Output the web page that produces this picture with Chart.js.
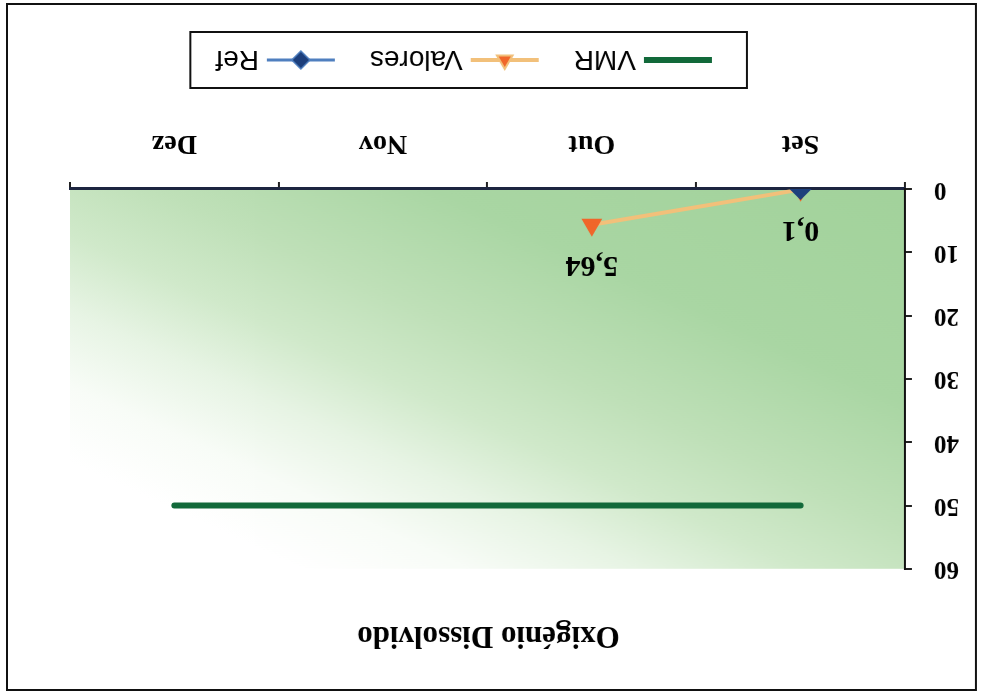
<!DOCTYPE html>
<html>
<head>
<meta charset="utf-8">
<title>Oxigénio Dissolvido</title>
<script src="https://cdn.jsdelivr.net/npm/chart.js@4.4.1/dist/chart.umd.min.js"></script>
<style>
  html, body { margin: 0; padding: 0; background: #fff; }
  /* o gráfico original está digitalizado de pernas para o ar */
  #wrap { position: relative; width: 981px; height: 698px; transform: rotate(180deg); }
  canvas { display: block; }
</style>
</head>
<body>
<div id="wrap"><canvas id="grafico" width="981" height="698"></canvas></div>
<script>
// dados
const meses = ['Set', 'Out', 'Nov', 'Dez'];
const vmr = [50, 50, 50, 50];
const valores = [0.1, 5.64, null, null];
const ref = [0, null, null, null];
const escalaY = [0, 60, 10]; // min, max, passo

const serif = '"Liberation Serif", "Times New Roman", serif';
const sans = '"Liberation Sans", Arial, sans-serif';

function virgula(v) {
  return String(v).replace('.', ',');
}

// fundo verde em degradé + moldura
const fundo = {
  id: 'fundo',
  beforeDraw(chart) {
    const { ctx, chartArea: a } = chart;
    const w = a.right - a.left, h = a.bottom - a.top;
    ctx.save();
    ctx.fillStyle = '#fff';
    ctx.fillRect(0, 0, chart.width, chart.height);
    // degradé do canto inferior esquerdo (escuro) para o superior direito (branco)
    const t = 2 * w * h / (w * w + h * h);
    const g = ctx.createLinearGradient(a.left, a.bottom, a.left + t * h, a.bottom - t * w);
    g.addColorStop(0, '#a2d29b');
    g.addColorStop(0.28, '#a9d6a3');
    g.addColorStop(0.45, '#bfe0b8');
    g.addColorStop(0.56, '#d0e9ca');
    g.addColorStop(0.66, '#e7f4e4');
    g.addColorStop(0.76, '#f8fcf7');
    g.addColorStop(0.86, '#ffffff');
    ctx.fillStyle = g;
    ctx.fillRect(a.left, a.top, w, h);
    ctx.strokeStyle = '#111';
    ctx.lineWidth = 2;
    ctx.strokeRect(5, 8, chart.width - 12, chart.height - 12);
    ctx.restore();
  }
};

// rótulos de valor da série Valores
const rotulos = {
  id: 'rotulos',
  afterDatasetsDraw(chart) {
    const ctx = chart.ctx;
    const meta = chart.getDatasetMeta(1);
    ctx.save();
    ctx.font = 'bold 30px ' + serif;
    ctx.fillStyle = '#000';
    ctx.textAlign = 'center';
    ctx.textBaseline = 'middle';
    meta.data.forEach((pt, i) => {
      if (valores[i] == null) return;
      ctx.fillText(virgula(valores[i]), pt.x, pt.y - 40);
    });
    ctx.restore();
  }
};

// legenda em caixa, estilo Excel (linha com marcador ao meio)
const legenda = {
  id: 'legenda',
  afterDraw(chart) {
    const ctx = chart.ctx;
    const ds = chart.data.datasets;
    const linha = 68, folga = 8, entre = 35, padE = 35, padD = 25;
    ctx.save();
    ctx.font = '28px ' + sans;
    const larguras = ds.map(d => ctx.measureText(d.label).width);
    const total = larguras.reduce((s, w) => s + linha + folga + w, 0) + entre * (ds.length - 1) + padE + padD;
    const left = chart.chartArea.left + 158;
    const top = 610, alt = 56;
    ctx.strokeStyle = '#111';
    ctx.lineWidth = 2;
    ctx.strokeRect(left, top, total, alt);
    const cy = top + alt / 2;
    let x = left + padE;
    ds.forEach((d, i) => {
      ctx.strokeStyle = d.borderColor;
      ctx.lineWidth = d.borderWidth;
      ctx.beginPath();
      ctx.moveTo(x, cy);
      ctx.lineTo(x + linha, cy);
      ctx.stroke();
      if (d.pointRadius > 0) {
        Chart.helpers.drawPoint(ctx, {
          pointStyle: d.pointStyle, radius: d.pointRadius - 1, borderWidth: 1
        }, x + linha / 2, cy);
        ctx.fillStyle = d.pointBackgroundColor;
        ctx.fill();
      }
      ctx.fillStyle = '#000';
      ctx.textAlign = 'left';
      ctx.textBaseline = 'middle';
      ctx.fillText(d.label, x + linha + folga, cy + 1);
      x += linha + folga + larguras[i] + entre;
    });
    ctx.restore();
  }
};

new Chart(document.getElementById('grafico'), {
  type: 'line',
  data: {
    labels: meses,
    datasets: [
      {
        label: 'VMR',
        data: vmr,
        borderColor: '#12693a',
        borderWidth: 6,
        pointRadius: 0,
        borderCapStyle: 'round',
        order: 2
      },
      {
        label: 'Valores',
        data: valores,
        borderColor: '#f2c07a',
        borderWidth: 4,
        pointStyle: 'triangle',
        pointRadius: 8,
        pointBackgroundColor: '#f0662a',
        pointBorderColor: '#f0662a',
        order: 1
      },
      {
        label: 'Ref',
        data: ref,
        borderColor: '#4f7fbf',
        borderWidth: 3,
        pointStyle: 'rectRot',
        pointRadius: 9,
        pointBackgroundColor: '#1d3f7c',
        pointBorderColor: '#1d3f7c',
        order: 0
      }
    ]
  },
  options: {
    responsive: false,
    animation: false,
    devicePixelRatio: 1,
    layout: { padding: { left: 4, right: 0, top: 0, bottom: 0 } },
    plugins: {
      legend: { display: false },
      tooltip: { enabled: false },
      title: {
        display: true,
        text: 'Oxigénio Dissolvido',
        color: '#000',
        font: { family: serif, size: 31, weight: 'bold' },
        padding: { top: 44, bottom: 48 }
      }
    },
    scales: {
      x: {
        offset: true,
        grid: { offset: true, drawOnChartArea: false, tickLength: 7, color: '#222', lineWidth: 2 },
        border: { color: '#1d2540', width: 3 },
        ticks: { color: '#000', padding: 22, font: { family: serif, size: 28, weight: 'bold' } },
        afterFit(s) { s.height = 189; }
      },
      y: {
        min: escalaY[0],
        max: escalaY[1],
        grid: { drawOnChartArea: false, tickLength: 7, color: '#222', lineWidth: 2 },
        border: { color: '#111', width: 2 },
        ticks: { stepSize: escalaY[2], color: '#000', padding: 22, font: { family: serif, size: 25, weight: 'bold' } },
        afterFit(s) { s.width = 72; }
      },
      // margem à direita da área do gráfico
      margem: {
        position: 'right',
        display: true,
        grid: { display: false },
        border: { display: false },
        ticks: { display: false },
        afterFit(s) { s.width = 70; }
      }
    }
  },
  plugins: [fundo, rotulos, legenda]
});
</script>
</body>
</html>
